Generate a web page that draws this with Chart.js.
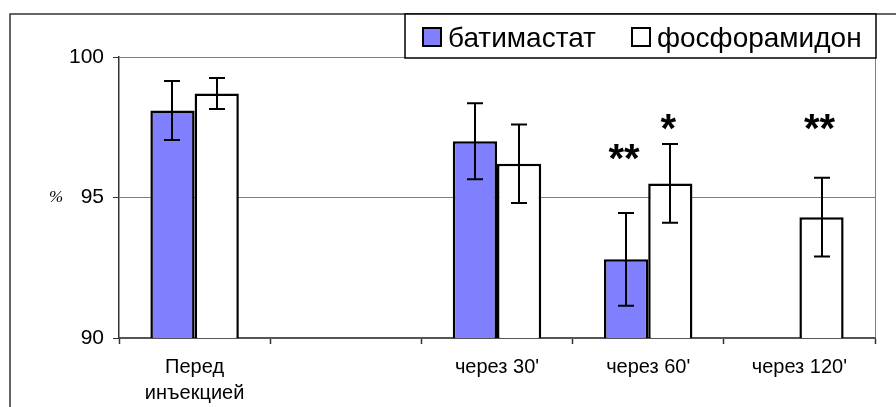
<!DOCTYPE html>
<html>
<head>
<meta charset="utf-8">
<script src="https://cdn.jsdelivr.net/npm/chart.js@4/dist/chart.umd.min.js"></script>
<style>
  html, body { margin: 0; padding: 0; background: #fff; }
  canvas { display: block; }
</style>
</head>
<body>
<canvas id="myChart" width="896" height="407"></canvas>
<script>
// DATA
const labels = [["Перед", "инъекцией"], "", "через 30'", "через 60'", "через 120'"];
const seriesNames = ["батимастат", "фосфорамидон"];
const batimastat = [98.1, null, 97.0, 92.8, null];
const batimastatErr = [1.05, null, 1.35, 1.65, null];
const phosphoramidon = [98.7, null, 96.2, 95.5, 94.3];
const phosphoramidonErr = [0.55, null, 1.4, 1.4, 1.4];
// significance marks and the value level they sit at
const batimastatStars = ["", "", "", "**", ""];
const phosphoramidonStars = ["", "", "", "*", "**"];
const batimastatStarLevel = [null, null, null, 96.63, null];
const phosphoramidonStarLevel = [null, null, null, 97.7, 97.7];
const yTicks = [90, 95, 100];

const FONT = '"Liberation Sans", Arial, sans-serif';

// DRAW FRAME, ERROR BARS, STARS AND LEGEND
const extras = {
  id: "extras",
  beforeDraw(chart) {
    const ctx = chart.ctx;
    const a = chart.chartArea;
    ctx.save();
    ctx.fillStyle = "#fff";
    ctx.fillRect(0, 0, chart.width, chart.height);
    // outer frame (cropped on the right and bottom)
    ctx.strokeStyle = "#333";
    ctx.lineWidth = 1.5;
    ctx.strokeRect(10, 14, chart.width + 20, chart.height + 20);
    // plot area right border
    ctx.strokeStyle = "#808080";
    ctx.lineWidth = 1;
    ctx.beginPath();
    ctx.moveTo(a.right + 0.5, a.top);
    ctx.lineTo(a.right + 0.5, a.bottom);
    ctx.stroke();
    ctx.restore();
  },
  afterDatasetsDraw(chart) {
    const ctx = chart.ctx;
    const y = chart.scales.y;
    const errs = [batimastatErr, phosphoramidonErr];
    const stars = [batimastatStars, phosphoramidonStars];
    const levels = [batimastatStarLevel, phosphoramidonStarLevel];
    ctx.save();
    ctx.strokeStyle = "#000";
    ctx.lineWidth = 2;
    chart.data.datasets.forEach((ds, d) => {
      const meta = chart.getDatasetMeta(d);
      meta.data.forEach((bar, i) => {
        const v = ds.data[i];
        const e = errs[d][i];
        if (v == null || e == null) return;
        const x = Math.round(bar.x);
        const top = y.getPixelForValue(v + e);
        const bot = y.getPixelForValue(v - e);
        ctx.beginPath();
        ctx.moveTo(x, top);
        ctx.lineTo(x, bot);
        ctx.moveTo(x - 8, top);
        ctx.lineTo(x + 8, top);
        ctx.moveTo(x - 8, bot);
        ctx.lineTo(x + 8, bot);
        ctx.stroke();
      });
      // stars
      ctx.fillStyle = "#000";
      ctx.font = "bold 40px " + FONT;
      ctx.textAlign = "center";
      ctx.textBaseline = "alphabetic";
      meta.data.forEach((bar, i) => {
        const s = stars[d][i];
        if (!s) return;
        const cy = y.getPixelForValue(levels[d][i]);
        const m = ctx.measureText(s);
        const off = (m.actualBoundingBoxAscent - m.actualBoundingBoxDescent) / 2;
        ctx.fillText(s, bar.x - 2, cy + off);
      });
    });
    ctx.restore();
  },
  afterDraw(chart) {
    const ctx = chart.ctx;
    const a = chart.chartArea;
    ctx.save();
    // "%" axis mark
    ctx.fillStyle = "#000";
    ctx.font = 'italic 17px "Liberation Serif", serif';
    ctx.textAlign = "center";
    ctx.textBaseline = "middle";
    ctx.fillText("%", 56, (a.top + a.bottom) / 2);
    // legend box
    const lx = 405, ly = 14, lw = 876 - 405, lh = 44;
    ctx.fillStyle = "#fff";
    ctx.fillRect(lx, ly, lw, lh);
    ctx.strokeStyle = "#000";
    ctx.lineWidth = 1.5;
    ctx.strokeRect(lx, ly, lw, lh);
    ctx.font = "28px " + FONT;
    ctx.textAlign = "left";
    ctx.textBaseline = "alphabetic";
    const boxX = [423, 632];
    chart.data.datasets.forEach((ds, d) => {
      ctx.fillStyle = ds.backgroundColor;
      ctx.fillRect(boxX[d], 28, 18, 18);
      ctx.strokeStyle = "#000";
      ctx.lineWidth = 2;
      ctx.strokeRect(boxX[d], 28, 18, 18);
      ctx.fillStyle = "#000";
      ctx.fillText(ds.label, boxX[d] + 25, 47);
    });
    ctx.restore();
  },
};

const myChart = document.getElementById("myChart").getContext("2d");

const chart = new Chart(myChart, {
  type: "bar",
  data: {
    labels: labels,
    datasets: [
      {
        label: seriesNames[0],
        data: batimastat,
        backgroundColor: "#8080ff",
        borderColor: "#000",
        borderWidth: 2.5,
      },
      {
        label: seriesNames[1],
        data: phosphoramidon,
        backgroundColor: "#ffffff",
        borderColor: "#000",
        borderWidth: 2.5,
      },
    ],
  },
  options: {
    responsive: false,
    animation: false,
    devicePixelRatio: 1,
    categoryPercentage: 0.585,
    barPercentage: 1,
    layout: {
      padding: { left: 0, top: 57, right: 21, bottom: 0 },
    },
    plugins: {
      legend: { display: false },
      tooltip: { enabled: false },
    },
    scales: {
      x: {
        afterFit: (scale) => {
          scale.height = 69;
        },
        grid: {
          offset: true,
          drawOnChartArea: false,
          tickLength: 6,
          tickColor: "#333",
          tickWidth: 1.5,
        },
        border: { color: "#555", width: 2 },
        ticks: {
          color: "#000",
          font: { family: FONT, size: 20, lineHeight: 1.3 },
          padding: 10,
          maxRotation: 0,
          autoSkip: false,
        },
      },
      y: {
        min: 90,
        max: 100,
        afterFit: (scale) => {
          scale.width = 119;
        },
        afterBuildTicks: (scale) => {
          scale.ticks = yTicks.map((v) => ({ value: v }));
        },
        grid: {
          color: "#808080",
          lineWidth: 1,
          tickLength: 6,
          tickColor: "#333",
        },
        border: { color: "#333", width: 1.5 },
        ticks: {
          color: "#000",
          font: { family: FONT, size: 21 },
          padding: 9,
        },
      },
    },
  },
  plugins: [extras],
});
</script>
</body>
</html>
